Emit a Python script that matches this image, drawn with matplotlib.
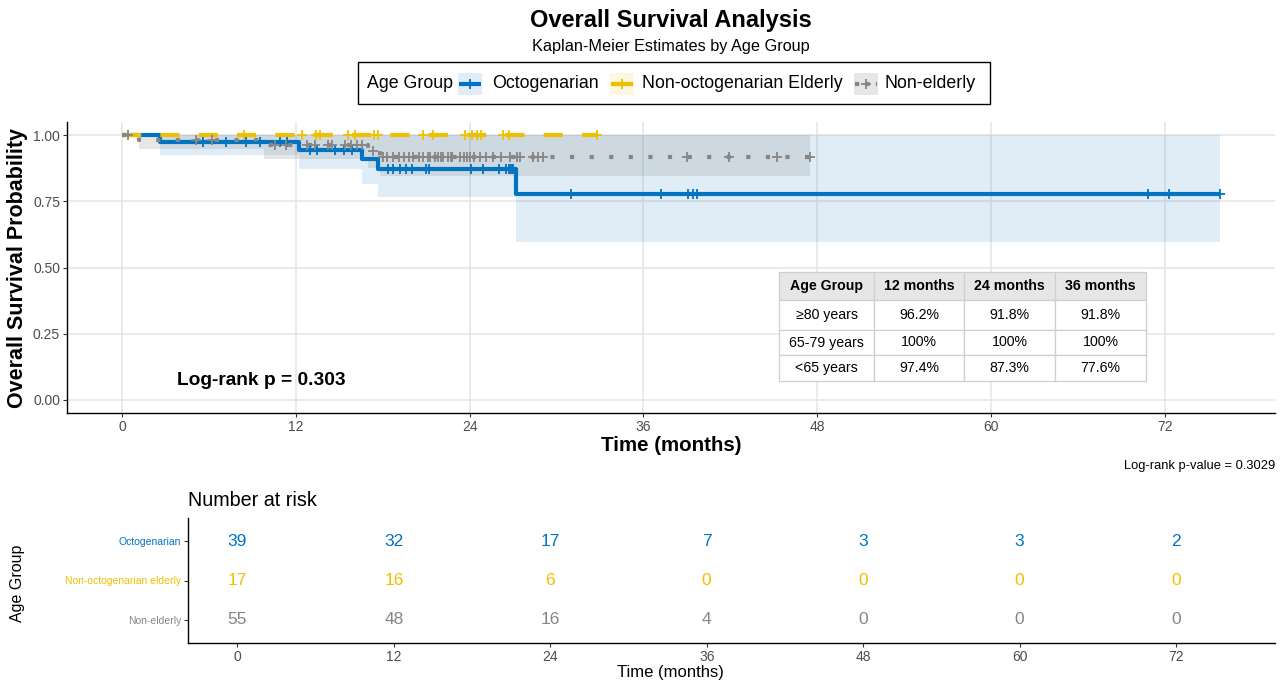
import numpy as np
import matplotlib
matplotlib.use("Agg")
import matplotlib.pyplot as plt
from matplotlib.patches import Rectangle
from matplotlib.lines import Line2D

plt.rcParams['font.family'] = ['Liberation Sans', 'DejaVu Sans']

# ---------------- data ----------------
groups = ['Octogenarian', 'Non-octogenarian Elderly', 'Non-elderly']
risk_labels = ['Octogenarian', 'Non-octogenarian elderly', 'Non-elderly']
colors = ['#0073C2', '#EFC000', '#868686']

# Octogenarian
octo_t = [0, 2.6, 12.2, 16.6, 17.7, 27.2]
octo_s = [1.0, 0.974, 0.944, 0.909, 0.874, 0.777]
octo_lo = [1.0, 0.925, 0.874, 0.814, 0.765, 0.595]
octo_hi = [1.0, 1.0, 1.0, 1.0, 1.0, 1.0]
octo_end = 75.8
octo_cens = [5.6, 7.2, 8.6, 9.5, 10.9, 11.4, 13.0, 13.5, 14.7, 15.3, 15.9, 18.4,
             18.7, 19.2, 19.6, 20.0, 21.0, 21.2, 24.1, 24.9, 26.0, 26.5, 26.7,
             26.8, 26.9, 27.0, 31.0, 37.2, 39.1, 39.4, 39.7, 70.8, 72.3, 75.8]

# Non-octogenarian elderly
elder_t = [0]
elder_s = [1.0]
elder_lo = [1.0]
elder_hi = [1.0]
elder_end = 32.8
elder_cens = [8.4, 12.4, 13.4, 13.7, 15.6, 16.1, 17.4, 17.7, 20.8, 21.5, 23.7,
              24.2, 24.5, 24.8, 26.3, 26.7, 32.8]

# Non-elderly
nonel_t = [0, 1.2, 9.8, 17.0, 17.8]
nonel_s = [1.0, 0.982, 0.963, 0.940, 0.918]
nonel_lo = [1.0, 0.947, 0.912, 0.875, 0.845]
nonel_hi = [1.0, 1.0, 1.0, 1.0, 1.0]
nonel_end = 47.5
nonel_cens = [0.4, 5.1, 6.2, 10.6, 11.3, 12.8, 13.3, 14.2, 14.5, 15.4, 15.8, 16.2,
              16.6, 17.3, 18.0, 18.3, 18.7, 19.1, 19.5, 19.8, 20.1, 20.5, 20.8,
              21.1, 21.3, 21.6, 21.8, 22.0, 22.2, 22.5, 22.7, 22.8, 23.35, 23.6,
              23.8, 24.0, 24.3, 24.7, 25.1, 25.6, 26.2, 26.8, 27.3, 27.5, 28.4,
              28.7, 29.1, 39.0, 41.9, 45.2, 47.5]

x_ticks = [0, 12, 24, 36, 48, 60, 72]
y_ticks = [0.0, 0.25, 0.50, 0.75, 1.00]
y_tick_labels = ['0.00', '0.25', '0.50', '0.75', '1.00']

risk_times = [0, 12, 24, 36, 48, 60, 72]
risk_octo = [39, 32, 17, 7, 3, 3, 2]
risk_elder = [17, 16, 6, 0, 0, 0, 0]
risk_nonel = [55, 48, 16, 4, 0, 0, 0]

tbl_header = ['Age Group', '12 months', '24 months', '36 months']
tbl_rows = [['\u226580 years', '96.2%', '91.8%', '91.8%'],
            ['65-79 years', '100%', '100%', '100%'],
            ['<65 years', '97.4%', '87.3%', '77.6%']]

pval_text = 'Log-rank p = 0.303'
pval_full = 'Log-rank p-value = 0.3029'

# ---------------- figure ----------------
W, H = 1286, 683
fig = plt.figure(figsize=(W / 100, H / 100), dpi=100)

def px_axes(l, t, r, b):
    return [l / W, 1 - b / H, (r - l) / W, (b - t) / H]

ax = fig.add_axes(px_axes(67, 122, 1275, 413))
ax_r = fig.add_axes(px_axes(188, 518, 1275, 643))
ov = fig.add_axes([0, 0, 1, 1], zorder=20)
ov.set_xlim(0, W)
ov.set_ylim(H, 0)
ov.axis('off')

series = [
    (octo_t, octo_s, octo_lo, octo_hi, octo_end, octo_cens, None),
    (elder_t, elder_s, elder_lo, elder_hi, elder_end, elder_cens, (4.6, 4.6)),
    (nonel_t, nonel_s, nonel_lo, nonel_hi, nonel_end, nonel_cens, (1.0, 3.7)),
]
band_alpha = [0.12, 0.12, 0.2]

# bands
for i, (t, s, lo, hi, end, cens, dash) in enumerate(series):
    tt = list(t) + [end]
    ax.fill_between(tt, list(lo) + [lo[-1]], list(hi) + [hi[-1]], step='post',
                    color=colors[i], alpha=band_alpha[i], lw=0, zorder=1)

# lines
for i, (t, s, lo, hi, end, cens, dash) in enumerate(series):
    tt = list(t) + [end]
    ss = list(s) + [s[-1]]
    ln, = ax.step(tt, ss, where='post', color=colors[i], lw=3.0, zorder=3 + i,
                  solid_capstyle='butt')
    if dash is not None:
        ln.set_dashes(dash)
        ln.set_dash_capstyle('butt')

# censor marks
for i, (t, s, lo, hi, end, cens, dash) in enumerate(series):
    c = np.asarray(cens)
    idx = np.searchsorted(np.asarray(t), c, side='right') - 1
    cy = np.asarray(s)[idx]
    ax.plot(c, cy, ls='none', marker='+', ms=7, mew=1.3, color=colors[i],
            zorder=6 + i)

ax.set_xlim(-3.79, 79.6)
ax.set_ylim(-0.05, 1.05)
ax.set_xticks(x_ticks)
ax.set_xticklabels([str(v) for v in x_ticks])
ax.set_yticks(y_ticks)
ax.set_yticklabels(y_tick_labels)
ax.grid(True, color='#E4E4E4', lw=1.1, zorder=0)
ax.set_axisbelow(True)
for sp in ['top', 'right']:
    ax.spines[sp].set_visible(False)
for sp in ['left', 'bottom']:
    ax.spines[sp].set_linewidth(1.0)
    ax.spines[sp].set_color('black')
ax.tick_params(axis='both', length=3, width=0.8, color='#333333',
               labelcolor='#4D4D4D', labelsize=10, pad=2)
ax.set_xlabel('Time (months)', fontsize=14.8, fontweight='bold', va='center')
ax.xaxis.set_label_coords(0.5, -0.11)
ax.set_ylabel('Overall Survival Probability', fontsize=15.5, fontweight='bold',
              va='center')
ax.yaxis.set_label_coords(-0.0406, 0.5)

ax.text(9.6, 0.072, pval_text, fontsize=13.8, fontweight='bold', ha='center',
        va='center', zorder=10)

# summary table (pixel coords in overlay)
col_x = [779, 874, 964, 1055, 1146]
row_y = [272, 300, 330, 355, 381]
for r in range(4):
    for cidx in range(4):
        x0, x1 = col_x[cidx], col_x[cidx + 1]
        y0, y1 = row_y[r], row_y[r + 1]
        fc = '#E6E6E6' if r == 0 else 'white'
        ov.add_patch(Rectangle((x0, y0), x1 - x0, y1 - y0, facecolor=fc,
                               edgecolor='#CFCFCF', lw=0.9))
        txt = tbl_header[cidx] if r == 0 else tbl_rows[r - 1][cidx]
        ov.text((x0 + x1) / 2, (y0 + y1) / 2, txt, ha='center', va='center',
                fontsize=10.2, fontweight='bold' if r == 0 else 'normal',
                color='black')

ov.text(1275, 466, pval_full, ha='right', va='center', fontsize=9.3)

# title
ov.text(671, 20, 'Overall Survival Analysis', ha='center', va='center',
        fontsize=17, fontweight='bold')
ov.text(671, 47, 'Kaplan-Meier Estimates by Age Group', ha='center',
        va='center', fontsize=11.7)

# legend (drawn manually)
ov.add_patch(Rectangle((358, 62), 632, 42, facecolor='white', edgecolor='black',
                       lw=1.0))
ov.text(367, 84, 'Age Group', ha='left', va='center', fontsize=12.8)
key_centers = [470, 622, 866]
text_starts = [492, 642, 885]
for i in range(3):
    kc = key_centers[i]
    ov.add_patch(Rectangle((kc - 12, 73), 24, 22, facecolor=colors[i],
                           alpha=band_alpha[i], lw=0))
    ln = Line2D([kc - 11, kc + 11], [84, 84], color=colors[i], lw=3.0,
                solid_capstyle='butt')
    if i == 2:
        ln.set_dashes((1.0, 1.5))
        ln.set_dash_capstyle('butt')
    ov.add_line(ln)
    ov.plot([kc], [84], marker='+', ms=7, mew=1.3, color=colors[i], ls='none')
    ov.text(text_starts[i], 84, groups[i], ha='left', va='center', fontsize=12.8)

# ---------------- risk table ----------------
risk_sets = [risk_octo, risk_elder, risk_nonel]
for i, vals in enumerate(risk_sets):
    for tm, v in zip(risk_times, vals):
        ax_r.text(tm, i + 1, str(v), ha='center', va='center', fontsize=12.5,
                  color=colors[i])
ax_r.set_xlim(-3.79, 79.6)
ax_r.set_ylim(3.6, 0.4)
ax_r.set_xticks(x_ticks)
ax_r.set_xticklabels([str(v) for v in x_ticks])
ax_r.set_yticks([1, 2, 3])
ax_r.set_yticklabels(risk_labels)
for lab, col in zip(ax_r.get_yticklabels(), colors):
    lab.set_color(col)
    lab.set_fontsize(7.5)
for sp in ['top', 'right']:
    ax_r.spines[sp].set_visible(False)
for sp in ['left', 'bottom']:
    ax_r.spines[sp].set_linewidth(1.0)
    ax_r.spines[sp].set_color('black')
ax_r.tick_params(axis='both', length=3, width=0.8, color='#333333', pad=2)
ax_r.tick_params(axis='x', labelcolor='#4D4D4D', labelsize=10)
ax_r.set_xlabel('Time (months)', fontsize=12, va='center')
ax_r.xaxis.set_label_coords(0.444, -0.24)
ax_r.set_ylabel('Age Group', fontsize=11.5, va='center')
ax_r.yaxis.set_label_coords(-0.1564, 0.48)
ax_r.text(0, 1.144, 'Number at risk', transform=ax_r.transAxes, ha='left',
          va='center', fontsize=14.2)

fig.savefig('out.png', dpi=100)
